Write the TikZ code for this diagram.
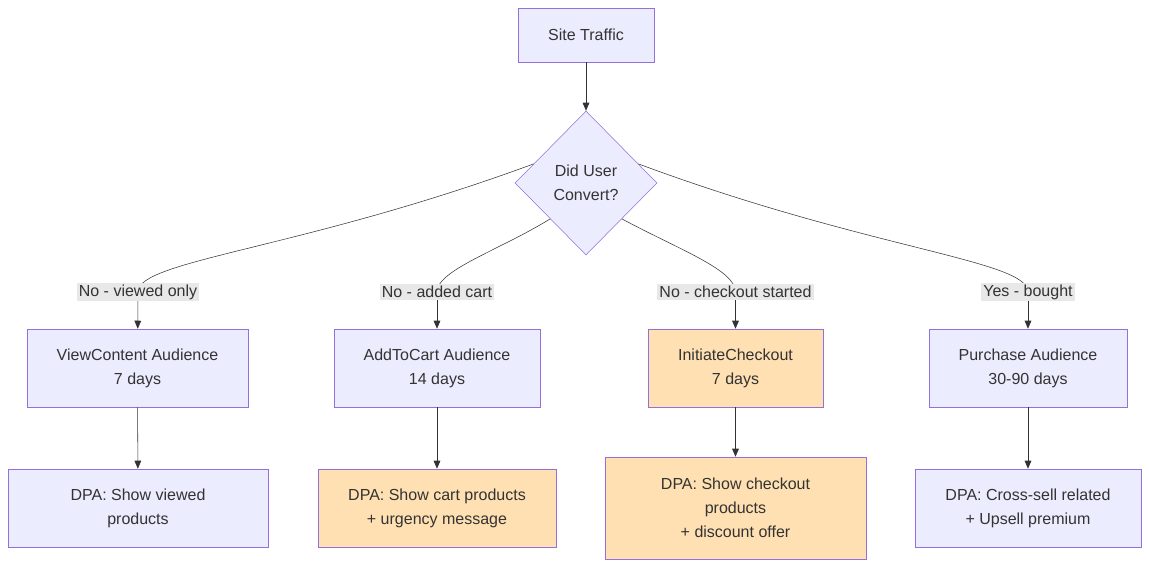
\documentclass[tikz,border=0pt]{standalone}
\usepackage{fontspec}
\setmainfont{Liberation Sans}
\usetikzlibrary{shapes.geometric, arrows.meta, positioning}
\definecolor{nodefill}{HTML}{ECECFF}
\definecolor{nodeline}{HTML}{9370DB}
\definecolor{hotfill}{HTML}{FFE0B2}
\definecolor{inktext}{HTML}{333333}
\definecolor{labelbg}{HTML}{E8E8E8}

\begin{document}
\begin{tikzpicture}[
  x=0.75pt, y=-0.75pt,
  font=\fontsize{12}{18}\selectfont, text=inktext,
  box/.style={draw=nodeline, fill=nodefill, align=center, inner sep=2pt},
  hot/.style={box, fill=hotfill},
  decide/.style={diamond, draw=nodeline, fill=nodefill, align=center, inner sep=0pt, minimum width=106.5pt, minimum height=108pt},
  edgelabel/.style={fill=labelbg, inner sep=1.5pt},
  link/.style={draw=inktext, -{Triangle[length=6pt, width=5pt]}},
]
\useasboundingbox (0,0) rectangle (1149,567);

% Top of the flow
\node[box, minimum width=102pt, minimum height=40.5pt] (traffic) at (586,35) {Site Traffic};
\node[decide] (convert) at (586,183) {Did User\\Convert?};

% Audiences
\node[box, minimum width=165.75pt, minimum height=58.5pt] (view) at (137.5,368) {ViewContent Audience\\7 days};
\node[box, minimum width=154.5pt, minimum height=58.5pt] (cart) at (437,368) {AddToCart Audience\\14 days};
\node[hot, minimum width=131.25pt, minimum height=58.5pt] (checkout) at (735.5,368) {InitiateCheckout\\7 days};
\node[box, minimum width=148.5pt, minimum height=58.5pt] (buyer) at (1028,368) {Purchase Audience\\30-90 days};

% Ads
\node[box, minimum width=195pt, minimum height=58.5pt] (dpaview) at (138,508) {DPA: Show viewed\\products};
\node[hot, minimum width=178.5pt, minimum height=58.5pt] (dpacart) at (437,508) {DPA: Show cart products\\+ urgency message};
\node[hot, minimum width=195.75pt, minimum height=76.5pt] (dpacheck) at (735.5,508) {DPA: Show checkout\\products\\+ discount offer};
\node[box, minimum width=169.5pt, minimum height=58.5pt] (dpabuy) at (1028,508) {DPA: Cross-sell related\\+ Upsell premium};

% Edge labels
\coordinate (k1) at (138,292);
\coordinate (k2) at (437,292);
\coordinate (k3) at (735.5,292);
\coordinate (k4) at (1028,292);

\draw[link] (traffic) -- (convert);
\draw[draw=inktext] (convert.180-20) .. controls (300,250) and (138,260) .. (k1);
\draw[draw=inktext] (convert.225) .. controls (500,250) and (437,270) .. (k2);
\draw[draw=inktext] (convert.315) .. controls (680,250) and (735.5,270) .. (k3);
\draw[draw=inktext] (convert.20) .. controls (870,250) and (1028,260) .. (k4);
\draw[link] (k1) -- (view);
\draw[link] (k2) -- (cart);
\draw[link] (k3) -- (checkout);
\draw[link] (k4) -- (buyer);

\node[edgelabel] at (k1) {No - viewed only};
\node[edgelabel] at (k2) {No - added cart};
\node[edgelabel] at (k3) {No - checkout started};
\node[edgelabel] at (k4) {Yes - bought};

\draw[link] (view) -- (dpaview);
\draw[link] (cart) -- (dpacart);
\draw[link] (checkout) -- (dpacheck);
\draw[link] (buyer) -- (dpabuy);
\end{tikzpicture}
\end{document}
